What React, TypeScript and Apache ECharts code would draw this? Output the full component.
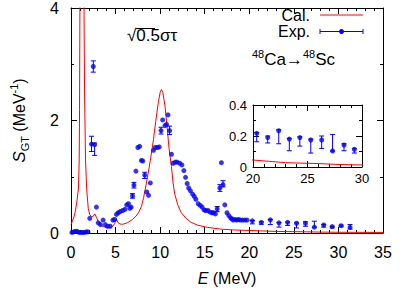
import React, { useEffect, useRef } from 'react';
import * as echarts from 'echarts';

const FONT = "'Liberation Sans', Arial, Helvetica, sans-serif";
const RED = '#ff0000';
const BLUE = '#0000ff';

// Calculated strength (red line): [E (MeV), S_GT]
const calcData: number[][] = [
  [0, 0.15], [0.3, 0.27], [0.47, 0.37], [0.65, 0.55], [0.84, 0.8], [0.92, 1.3], [0.96, 2.2],
  [1.0, 4.0], [1.1, 7.0], [1.23, 8.0], [1.36, 7.0], [1.46, 4.0], [1.53, 2.4], [1.63, 1.3],
  [1.76, 0.78], [1.94, 0.43], [2.1, 0.33], [2.3, 0.29], [2.5, 0.3], [2.67, 0.34], [2.85, 0.28],
  [3.04, 0.21], [3.4, 0.13], [3.7, 0.11], [3.95, 0.1], [4.5, 0.1], [4.75, 0.13], [4.9, 0.17],
  [5.05, 0.24], [5.15, 0.23], [5.3, 0.18], [5.5, 0.16], [5.8, 0.155], [6.3, 0.18], [6.9, 0.24],
  [7.3, 0.3], [7.6, 0.37], [7.9, 0.47], [8.15, 0.63], [8.53, 0.95], [8.9, 1.29], [9.25, 1.66],
  [9.5, 1.98], [9.8, 2.33], [10.0, 2.5], [10.15, 2.55], [10.3, 2.5], [10.55, 2.25], [10.8, 1.85],
  [11.0, 1.5], [11.27, 1.18], [11.45, 0.89], [11.64, 0.69], [12.0, 0.49], [12.37, 0.36],
  [12.92, 0.26], [13.47, 0.19], [14.2, 0.14], [15.3, 0.1], [16.76, 0.07], [18.2, 0.055],
  [20, 0.045], [23, 0.028], [26, 0.022], [28, 0.016], [30, 0.013], [35, 0.01],
];

// Experimental strength (blue points): [E (MeV), S_GT]
const expData: number[][] = [
  [0.1, 0.01], [0.3, 0.02], [0.5, 0.03], [0.7, 0.03], [0.9, 0.01], [1.1, 0.01], [1.3, 0.01],
  [1.5, 0.01], [1.7, 0.02], [1.9, 0.02], [2.1, 0.26], [2.3, 1.58], [2.5, 2.96], [2.65, 1.57],
  [2.85, 0.46], [3.05, 0.18], [3.3, 0.15], [3.6, 0.23], [3.85, 0.15], [4.1, 0.12], [4.4, 0.12],
  [4.7, 0.23], [4.9, 0.24], [5.1, 0.33], [5.3, 0.36], [5.5, 0.38], [5.8, 0.4], [6.05, 0.42],
  [6.25, 0.5], [6.45, 0.52], [6.6, 0.44], [6.75, 0.46], [6.9, 0.66], [7.06, 0.85], [7.28, 1.1],
  [7.5, 1.52], [7.7, 1.54], [7.9, 1.29], [8.05, 1.28], [8.27, 1.03], [8.5, 0.73], [8.7, 0.67],
  [8.9, 0.89], [9.25, 1.47], [9.45, 1.52], [9.7, 1.52], [9.9, 1.53], [10.1, 1.82], [10.28, 2.01],
  [10.54, 1.91], [10.72, 1.93], [10.88, 2.1], [11.06, 1.82], [11.27, 1.4], [11.45, 1.24],
  [11.7, 1.26], [11.9, 1.26], [12.2, 1.24], [12.44, 1.21], [12.66, 1.11], [12.85, 0.99],
  [13.03, 0.88], [13.2, 0.8], [13.4, 0.75], [13.65, 0.69], [13.83, 0.65], [14.0, 0.6],
  [14.27, 0.52], [14.5, 0.49], [14.7, 0.46], [14.93, 0.41], [15.1, 0.4], [15.37, 0.4],
  [15.6, 0.37], [15.84, 0.36], [16.0, 0.36], [16.2, 0.34], [16.4, 0.43], [16.7, 0.8],
  [16.87, 1.25], [17.05, 0.86], [17.25, 0.5], [17.5, 0.36], [17.7, 0.31], [17.9, 0.27],
  [18.05, 0.25], [18.2, 0.23], [18.4, 0.24], [18.6, 0.23], [18.8, 0.24], [19.0, 0.23],
  [19.25, 0.23], [19.5, 0.23], [19.75, 0.23], [20.34, 0.217], [21.35, 0.19], [22.36, 0.234],
  [23.33, 0.18], [24.3, 0.19], [25.3, 0.174], [26.3, 0.174], [27.3, 0.103], [28.35, 0.142],
  [29.3, 0.114], [30.3, 0.13], [31.3, 0.1],
];

// Error bars: [E, low, high]
const errData: number[][] = [
  [2.3, 1.45, 1.72], [2.5, 2.86, 3.06], [2.65, 1.38, 1.6], [6.9, 0.62, 0.7], [7.06, 0.8, 0.9],
  [8.27, 0.97, 1.08], [10.1, 1.76, 1.88], [11.06, 1.75, 1.9], [16.4, 0.38, 0.47],
  [16.7, 0.74, 0.86], [17.05, 0.82, 0.93], [20.34, 0.163, 0.222], [21.35, 0.155, 0.2],
  [22.36, 0.15, 0.24], [23.33, 0.105, 0.185], [24.3, 0.135, 0.195], [25.3, 0.09, 0.18],
  [26.3, 0.12, 0.2], [27.3, 0.103, 0.21], [28.35, 0.105, 0.15], [29.3, 0.09, 0.12],
  [30.3, 0.11, 0.14], [31.3, 0.07, 0.15],
];

const mainX = [0, 35, 5];
const mainY = [0, 4, 2];
const insetX = [20, 30, 5];
const insetY = [0, 0.4, 0.2];

function errRender(params: any, api: any) {
  const x = api.value(0);
  const p1 = api.coord([x, api.value(1)]);
  const p2 = api.coord([x, api.value(2)]);
  const w = 2.5;
  const st = { stroke: BLUE, lineWidth: 1 };
  return {
    type: 'group',
    children: [
      { type: 'line', shape: { x1: p1[0], y1: p1[1], x2: p2[0], y2: p2[1] }, style: st },
      { type: 'line', shape: { x1: p1[0] - w, y1: p1[1], x2: p1[0] + w, y2: p1[1] }, style: st },
      { type: 'line', shape: { x1: p2[0] - w, y1: p2[1], x2: p2[0] + w, y2: p2[1] }, style: st },
    ],
  };
}

function axis(gridIndex: number, position: string, range: number[], minorSplit: number, fontSize: number, showLabel: boolean, margin: number, extra: any = {}) {
  return {
    type: 'value',
    gridIndex,
    position,
    min: range[0],
    max: range[1],
    interval: range[2],
    axisLine: { show: true, onZero: false, lineStyle: { color: '#000', width: 1 } },
    axisTick: { show: true, inside: true, length: 6, lineStyle: { color: '#000', width: 1 } },
    minorTick: { show: true, splitNumber: minorSplit, length: 3, lineStyle: { color: '#000', width: 1 } },
    splitLine: { show: false },
    minorSplitLine: { show: false },
    axisLabel: { show: showLabel, color: '#000', fontSize, fontFamily: FONT, margin },
    ...extra,
  };
}

export default function App() {
  const ref = useRef<HTMLDivElement>(null);
  useEffect(() => {
    const chart = echarts.init(ref.current!, null, { renderer: 'svg' });
    const inRange = (d: number[]) => d[0] >= 20 && d[0] <= 30;
    const option: any = {
      animation: false,
      backgroundColor: '#fff',
      textStyle: { fontFamily: FONT },
      grid: [
        { left: 64, right: 32, top: 3, bottom: 56 },
        { left: 253, right: 53, top: 105, bottom: 124, show: true, backgroundColor: '#fff', borderWidth: 0, z: 5 },
      ],
      xAxis: [
        axis(0, 'bottom', mainX, 5, 16, true, 11, {
          name: '{i|E} (MeV)',
          nameLocation: 'middle',
          nameGap: 37,
          nameTextStyle: {
            color: '#000', fontSize: 16, fontFamily: FONT,
            rich: { i: { fontStyle: 'italic', fontSize: 16, fontFamily: FONT, color: '#000' } },
          },
        }),
        axis(0, 'top', mainX, 5, 16, false, 10),
        axis(1, 'bottom', insetX, 5, 13, true, 5, { z: 6 }),
        axis(1, 'top', insetX, 5, 13, false, 5, { z: 6 }),
      ],
      yAxis: [
        axis(0, 'left', mainY, 2, 16, true, 12, {
          name: '{i|S}{sub|GT}{n| (MeV}{sup|-1}{n|)}',
          nameLocation: 'middle',
          nameRotate: 90,
          nameGap: 41,
          nameTextStyle: {
            color: '#000', fontSize: 16, fontFamily: FONT,
            rich: {
              i: { fontStyle: 'italic', fontSize: 17, lineHeight: 22, fontFamily: FONT, color: '#000' },
              n: { fontSize: 16, lineHeight: 22, fontFamily: FONT, color: '#000' },
              sub: { fontSize: 11, lineHeight: 12, verticalAlign: 'bottom', fontFamily: FONT, color: '#000' },
              sup: { fontSize: 11, lineHeight: 12, verticalAlign: 'top', fontFamily: FONT, color: '#000' },
            },
          },
        }),
        axis(0, 'right', mainY, 2, 16, false, 12),
        axis(1, 'left', insetY, 2, 13, true, 6, { z: 6 }),
        axis(1, 'right', insetY, 2, 13, false, 6, { z: 6 }),
      ],
      series: [
        {
          type: 'line', xAxisIndex: 0, yAxisIndex: 0, data: calcData, showSymbol: false, clip: true,
          lineStyle: { color: RED, width: 1 }, z: 2,
        },
        {
          type: 'custom', xAxisIndex: 0, yAxisIndex: 0, data: errData, renderItem: errRender,
          encode: { x: 0, y: [1, 2] }, z: 3,
        },
        {
          type: 'scatter', xAxisIndex: 0, yAxisIndex: 0, data: expData, symbol: 'circle', symbolSize: 5,
          itemStyle: { color: BLUE }, z: 4,
        },
        {
          type: 'line', xAxisIndex: 2, yAxisIndex: 2, data: calcData, showSymbol: false, clip: true,
          lineStyle: { color: RED, width: 1 }, z: 7,
        },
        {
          type: 'custom', xAxisIndex: 2, yAxisIndex: 2, data: errData.filter(inRange), renderItem: errRender,
          encode: { x: 0, y: [1, 2] }, z: 8,
        },
        {
          type: 'scatter', xAxisIndex: 2, yAxisIndex: 2, data: expData.filter(inRange), symbol: 'circle', symbolSize: 5,
          itemStyle: { color: BLUE }, z: 9,
        },
      ],
      graphic: [
        { type: 'text', left: 127, top: 27, style: { text: '√0.5στ', fontSize: 17, fontFamily: FONT, fill: '#000' } },
        { type: 'line', shape: { x1: 136, y1: 28.5, x2: 155, y2: 28.5 }, style: { stroke: '#000', lineWidth: 1 } },
        {
          type: 'text', left: 252, top: 48,
          style: {
            text: '{sup|48}{n|Ca→}{sup|48}{n|Sc}',
            fontFamily: FONT, fill: '#000',
            rich: {
              n: { fontSize: 17, lineHeight: 22, fontFamily: FONT, fill: '#000' },
              sup: { fontSize: 11, lineHeight: 12, verticalAlign: 'top', fontFamily: FONT, fill: '#000' },
            },
          },
        },
        { type: 'text', right: 105, top: 7, style: { text: 'Cal.', fontSize: 16, fontFamily: FONT, fill: '#000' } },
        { type: 'line', shape: { x1: 320, y1: 15, x2: 363, y2: 15 }, style: { stroke: RED, lineWidth: 1 } },
        { type: 'text', right: 105, top: 23, style: { text: 'Exp.', fontSize: 16, fontFamily: FONT, fill: '#000' } },
        { type: 'line', shape: { x1: 320, y1: 31.5, x2: 363, y2: 31.5 }, style: { stroke: BLUE, lineWidth: 1 } },
        { type: 'line', shape: { x1: 320, y1: 29, x2: 320, y2: 34 }, style: { stroke: BLUE, lineWidth: 1 } },
        { type: 'line', shape: { x1: 363, y1: 29, x2: 363, y2: 34 }, style: { stroke: BLUE, lineWidth: 1 } },
        { type: 'circle', shape: { cx: 341.5, cy: 31.5, r: 2.5 }, style: { fill: BLUE } },
      ],
    };
    chart.setOption(option);
    return () => chart.dispose();
  }, []);
  return <div ref={ref} style={{ position: 'absolute', left: 0, top: 0, width: 415, height: 291 }} />;
}
